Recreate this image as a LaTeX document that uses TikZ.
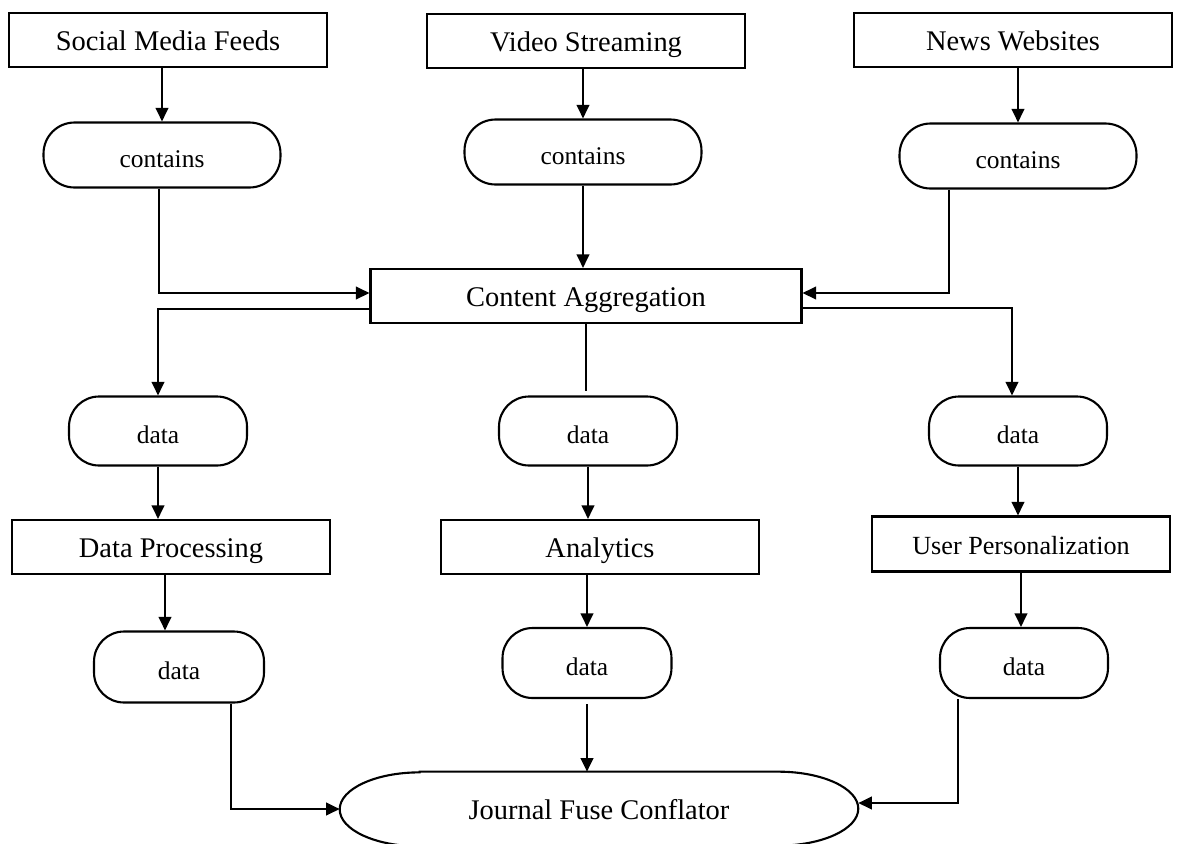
\documentclass[tikz,border=0pt]{standalone}
\usepackage{fontspec}
\setmainfont{Liberation Serif}
\usetikzlibrary{arrows.meta}
\begin{document}
\begin{tikzpicture}[x=0.02cm, y=-0.02cm,
    box/.style={draw, line width=1.2pt, minimum width=6.36cm, minimum height=1.08cm,
      inner sep=0pt, text height=14.6pt, text depth=2.6pt, font=\fontsize{16.2}{19}\selectfont},
    pill/.style={draw, line width=1.2pt, rounded corners=0.62cm, minimum width=4.74cm,
      minimum height=1.3cm, inner sep=0pt, text height=16pt, text depth=2pt,
      font=\fontsize{14.5}{17}\selectfont},
    datapill/.style={pill, rounded corners=0.6cm, minimum width=3.56cm, minimum height=1.38cm},
    arr/.style={line width=1.2pt, -{Triangle[length=0.27cm, width=0.25cm]}},
    link/.style={line width=1.2pt}]
    \useasboundingbox (0,0) rectangle (1181,843);
    % sources
    \node[box] (smf) at (168,40) {Social Media Feeds};
    \node[box] (vs) at (586,41) {Video Streaming};
    \node[box] (nw) at (1013,40) {News Websites};
    \node[pill] (c1) at (162,155) {contains};
    \node[pill] (c2) at (583,152) {contains};
    \node[pill] (c3) at (1018,156) {contains};
    \draw[arr] (smf.south -| c1.north) -- (c1.north);
    \draw[arr] (vs.south -| c2.north) -- (c2.north);
    \draw[arr] (nw.south -| c3.north) -- (c3.north);
    % aggregation
    \node[box, minimum width=8.62cm] (ca) at (586,296) {Content Aggregation};
    \draw[arr] ([xshift=-0.06cm]c1.south) |- ([yshift=0.06cm]ca.west);
    \draw[arr] (c2.south) -- (c2.south |- ca.north);
    \draw[arr] ([xshift=-1.38cm]c3.south) |- ([yshift=0.06cm]ca.east);
    \node[datapill] (d1) at (158,431) {data};
    \node[datapill] (d2) at (588,431) {data};
    \node[datapill] (d3) at (1018,431) {data};
    \draw[arr] ([yshift=-0.26cm]ca.west) -| (d1.north);
    \draw[link] (ca.south) -- ([yshift=0.08cm]ca.south |- d2.north);
    \draw[arr] ([yshift=-0.24cm]ca.east) -| ([xshift=-0.12cm]d3.north);
    % processing
    \node[box] (dp) at (171,547) {Data Processing};
    \node[box] (an) at (600,547) {Analytics};
    \node[box, minimum width=5.96cm, minimum height=1.1cm,
      font=\fontsize{14.9}{17}\selectfont] (up) at (1021,544) {User Personalization};
    \draw[arr] (d1.south) -- (d1.south |- dp.north);
    \draw[arr] (d2.south) -- (d2.south |- an.north);
    \draw[arr] (d3.south) -- (d3.south |- up.north);
    \node[datapill, minimum width=3.4cm, minimum height=1.42cm] (e1) at (179,667) {data};
    \node[datapill, minimum width=3.38cm, minimum height=1.4cm] (e2) at (587,663) {data};
    \node[datapill, minimum width=3.36cm, minimum height=1.4cm] (e3) at (1024,663) {data};
    \draw[arr] ([xshift=-0.12cm]dp.south) -- ([xshift=-0.12cm]dp.south |- e1.north);
    \draw[arr] (e2.north |- an.south) -- (e2.north);
    \draw[arr] (up.south) -- (up.south |- e3.north);
    % fuse
    \node[minimum width=10.36cm, minimum height=1.48cm, inner sep=0pt,
      text height=14.6pt, text depth=2.6pt,
      font=\fontsize{16.2}{19}\selectfont] (jfc) at (599,809) {Journal Fuse Conflator};
    \draw[line width=1.2pt] ([xshift=1.6cm]jfc.north west) -- ([xshift=-1.6cm]jfc.north east)
      arc[start angle=90, end angle=-90, x radius=1.6cm, y radius=0.74cm]
      -- ([xshift=1.6cm]jfc.south west)
      arc[start angle=270, end angle=90, x radius=1.6cm, y radius=0.74cm] -- cycle;
    \draw[arr] ([xshift=1.04cm]e1.south) |- (jfc.west);
    \draw[arr] ([yshift=-0.1cm]e2.south) -- (e2.south |- jfc.north);
    \draw[arr] ([xshift=-1.32cm]e3.south) |- ([yshift=0.12cm]jfc.east);
  \end{tikzpicture}
\end{document}
